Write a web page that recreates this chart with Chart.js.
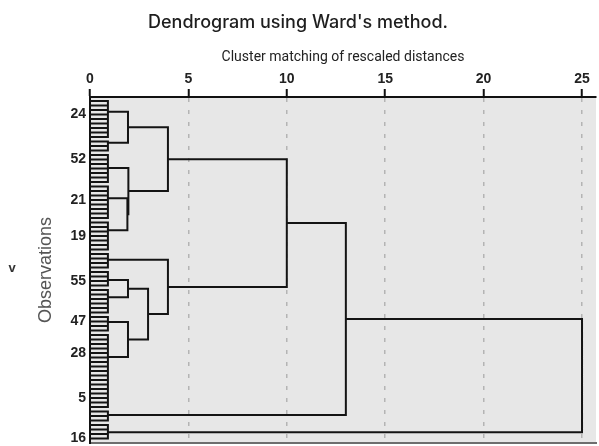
<!DOCTYPE html>
<html>
<head>
<meta charset="utf-8">
<script src="https://cdn.jsdelivr.net/npm/chart.js@4"></script>
<style>
  body { margin: 0; background: #fff; }
</style>
</head>
<body>
<canvas id="dendro" width="599" height="446"></canvas>
<script>
// distance axis ticks
var xTicks = [0, 5, 10, 15, 20, 25];

// observation labels shown on the left and the leaf row they sit on
var obsLabels = ['24', '52', '21', '19', '55', '47', '28', '5', '16'];
var obsLabelIdx = [3, 13, 22, 30, 40, 49, 56, 66, 75];
var leafCount = 76;

// small clusters of leaves joined at a tiny distance (nodes 0..11)
var groupFirst = [0, 9, 12, 19, 27, 34, 38, 42, 48, 52, 69, 72];
var groupLast = [8, 11, 18, 26, 33, 37, 41, 47, 51, 68, 71, 75];
var groupPos = [2.4, 9.3, 14.9, 21.6, 28.7, 35.3, 39.8, 43.6, 49.1, 56.9, 69.8, 73.6];
var groupDist = 0.91;

// higher merges (nodes 12..22)
var mergeA = [0, 3, 2, 12, 6, 8, 16, 5, 15, 20, 21];
var mergeB = [1, 4, 13, 14, 7, 9, 17, 18, 19, 10, 11];
var mergeDist = [1.93, 1.90, 1.95, 3.96, 1.93, 1.93, 2.95, 3.96, 10.0, 13.0, 25.0];

var gap = {x: NaN, y: NaN};
var lines = [];

// leaf ticks
for (var i = 0; i < leafCount; i++) {
  lines.push({x: 0, y: i}, {x: groupDist, y: i}, gap);
}
// group brackets
var nodePos = [], nodeDist = [];
for (var g = 0; g < groupFirst.length; g++) {
  lines.push({x: groupDist, y: groupFirst[g]}, {x: groupDist, y: groupLast[g]}, gap);
  nodePos.push(groupPos[g]);
  nodeDist.push(groupDist);
}
// merges
for (var m = 0; m < mergeA.length; m++) {
  var a = mergeA[m], b = mergeB[m], h = mergeDist[m];
  lines.push({x: nodeDist[a], y: nodePos[a]}, {x: h, y: nodePos[a]},
             {x: h, y: nodePos[b]}, {x: nodeDist[b], y: nodePos[b]}, gap);
  nodePos.push((nodePos[a] + nodePos[b]) / 2);
  nodeDist.push(h);
}

function noPad(scale) {
  scale.paddingTop = 0;
  scale.paddingBottom = 0;
  scale.paddingLeft = 0;
  scale.paddingRight = 0;
}

var plotBg = {
  id: 'plotBg',
  beforeDraw: function(chart) {
    var a = chart.chartArea, c = chart.ctx;
    c.save();
    c.fillStyle = '#e7e7e7';
    c.fillRect(a.left, a.top, a.right - a.left, a.bottom - a.top);
    c.restore();
  },
  afterDraw: function(chart) {
    var c = chart.ctx;
    c.save();
    c.fillStyle = '#333';
    c.font = 'bold 13px "Liberation Sans"';
    c.textAlign = 'center';
    c.textBaseline = 'middle';
    c.fillText('v', 12, 268);
    c.restore();
  }
};

new Chart(document.getElementById('dendro'), {
  type: 'scatter',
  data: {
    datasets: [{
      data: lines,
      showLine: true,
      spanGaps: false,
      borderColor: '#141414',
      borderWidth: 2,
      pointRadius: 0,
      pointHoverRadius: 0,
      borderJoinStyle: 'miter',
      borderCapStyle: 'square',
      clip: false
    }]
  },
  options: {
    responsive: false,
    animation: false,
    events: [],
    layout: { padding: { left: 0, right: 3, top: 0, bottom: 3 } },
    plugins: {
      legend: { display: false },
      tooltip: { enabled: false },
      title: {
        display: true,
        text: "Dendrogram using Ward's method.",
        color: '#1e1e1e',
        font: { family: 'Inter', size: 18, weight: '500' },
        padding: { top: 12, bottom: 8 }
      }
    },
    scales: {
      x: {
        type: 'linear',
        position: 'top',
        min: 0,
        max: 25.71,
        afterBuildTicks: function(scale) {
          scale.ticks = xTicks.map(function(v) { return {value: v}; });
        },
        afterFit: function(scale) { scale.height = 55.4; noPad(scale); },
        title: {
          display: true,
          text: 'Cluster matching of rescaled distances',
          color: '#222',
          font: { family: 'Roboto', size: 14 },
          padding: { top: 7, bottom: 0 }
        },
        ticks: {
          color: '#222',
          padding: 1,
          maxRotation: 0,
          font: { family: '"Liberation Sans Narrow", "Liberation Sans"', size: 14, weight: 'bold' }
        },
        grid: {
          color: function(ctx) { return ctx.tick && ctx.tick.value === 0 ? 'rgba(0,0,0,0)' : '#b4b4b4'; },
          lineWidth: 1.5,
          tickColor: '#111',
          tickWidth: 2,
          tickLength: 8
        },
        border: { display: true, color: '#111', width: 2, dash: [4, 8] }
      },
      x2: {
        type: 'linear',
        position: 'bottom',
        min: 0,
        max: 25.71,
        afterFit: function(scale) { scale.height = 0; noPad(scale); },
        ticks: { display: false },
        grid: { display: false, drawTicks: false },
        border: { display: true, color: '#6e6e6e', width: 2 }
      },
      y: {
        type: 'linear',
        reverse: true,
        min: -0.89,
        max: 76,
        afterBuildTicks: function(scale) {
          scale.ticks = obsLabelIdx.map(function(v) { return {value: v}; });
        },
        afterFit: function(scale) { scale.width = 90; noPad(scale); },
        title: {
          display: true,
          text: 'Observations',
          color: '#555',
          font: { family: '"Liberation Sans"', size: 18 },
          padding: { top: 35, bottom: 0 }
        },
        ticks: {
          color: '#222',
          padding: 4,
          font: { family: '"Liberation Sans Narrow", "Liberation Sans"', size: 14, weight: 'bold' },
          callback: function(value, index) { return obsLabels[index]; }
        },
        grid: { display: false, drawTicks: false, tickLength: 0 },
        border: { display: true, color: '#111', width: 2 }
      }
    }
  },
  plugins: [plotBg]
});
</script>
</body>
</html>
